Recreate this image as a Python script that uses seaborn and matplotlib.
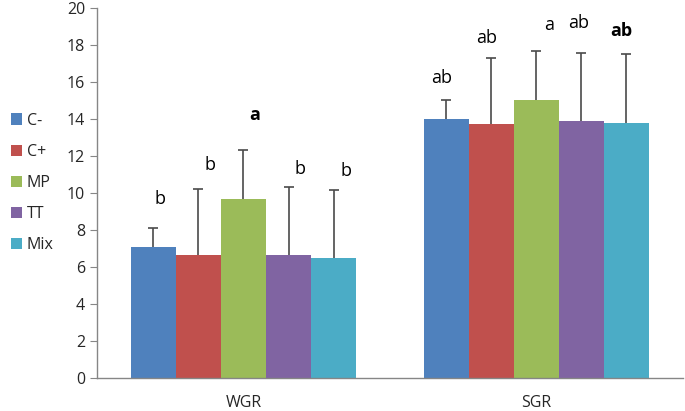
import numpy as np
import pandas as pd
import seaborn as sns
import matplotlib
matplotlib.use('Agg')
from matplotlib import pyplot as plt
from matplotlib.patches import Patch

# values
groups = ['WGR', 'SGR']
treatments = ['C-', 'C+', 'MP', 'TT', 'Mix']
wgr_mean = [7.1, 6.65, 9.65, 6.65, 6.5]
sgr_mean = [14.0, 13.75, 15.05, 13.9, 13.8]
wgr_err = [1.0, 3.55, 2.7, 3.7, 3.65]
sgr_err = [1.05, 3.55, 2.65, 3.65, 3.7]
wgr_letters = ['b', 'b', 'a', 'b', 'b']
sgr_letters = ['ab', 'ab', 'a', 'ab', 'ab']
wgr_letter_y = [9.7, 11.5, 14.2, 11.3, 11.2]
sgr_letter_y = [16.2, 18.4, 19.1, 19.2, 18.75]
wgr_bold = [False, False, True, False, False]
sgr_bold = [False, False, False, False, True]
# letters sit a bit off the bar centres (in pixels)
wgr_letter_dx = [7, 12, 11, 11, 12]
sgr_letter_dx = [-4, -5, 13, -3, -5]

colors = ['#4F81BD', '#C0504D', '#9BBB59', '#8064A2', '#4BACC6']
axis_gray = '#868686'

sns.set_style('white')
plt.rcParams['font.family'] = ['Open Sans', 'DejaVu Sans']

df = pd.DataFrame({
    'group': [g for g in groups for _ in treatments],
    'treatment': treatments * 2,
    'value': wgr_mean + sgr_mean,
})

fig = plt.figure(figsize=(6.85, 4.11), dpi=100)
ax = fig.add_axes([0.1416, 0.0803, 0.855, 0.9002])

sns.barplot(data=df, x='group', y='value', hue='treatment', order=groups,
            hue_order=treatments, palette=colors, width=0.77, gap=0,
            errorbar=None, saturation=1, linewidth=0, ax=ax, legend=False)

errs = {'WGR': wgr_err, 'SGR': sgr_err}
means = {'WGR': wgr_mean, 'SGR': sgr_mean}
letters = {'WGR': wgr_letters, 'SGR': sgr_letters}
letter_y = {'WGR': wgr_letter_y, 'SGR': sgr_letter_y}
letter_dx = {'WGR': wgr_letter_dx, 'SGR': sgr_letter_dx}
bolds = {'WGR': wgr_bold, 'SGR': sgr_bold}

px = 2.0 / (0.855 * 685)  # data units per pixel along x
cap = 5 * px
# patches come out hue by hue, each hue over both groups
bars = [p for p in ax.patches if p.get_height() > 0]
for i, t in enumerate(treatments):
    for j, g in enumerate(groups):
        p = bars[i * len(groups) + j]
        xc = p.get_x() + p.get_width() / 2
        top = means[g][i] + errs[g][i]
        ax.vlines(xc, means[g][i], top, color='#4a4a4a', linewidth=1.2)
        ax.hlines(top, xc - cap, xc + cap, color='#4a4a4a', linewidth=1.2)
        ax.text(xc + letter_dx[g][i] * px, letter_y[g][i], letters[g][i],
                ha='center', va='center', fontsize=13, color='black',
                fontweight='bold' if bolds[g][i] else 'normal')

ax.set_ylim(0, 20)
ax.set_yticks(np.arange(0, 21, 2))
ax.set_xlim(-0.5, 1.5)
ax.set_xlabel('')
ax.set_ylabel('')

ax.set_xticks([-0.5, 0.5, 1.5], minor=True)
ax.tick_params(axis='x', which='major', length=0, pad=12, labelsize=11.5)
ax.tick_params(axis='x', which='minor', length=5, color=axis_gray, direction='out')
ax.tick_params(axis='y', length=5, color=axis_gray, direction='out', labelsize=11.5, left=True)

for side in ['top', 'right']:
    ax.spines[side].set_visible(False)
for side in ['left', 'bottom']:
    ax.spines[side].set_color(axis_gray)
    ax.spines[side].set_linewidth(1)

handles = [Patch(facecolor=c, edgecolor='none') for c in colors]
fig.legend(handles, treatments, loc='center left', bbox_to_anchor=(-0.005, 0.555),
           frameon=False, fontsize=11.5, handlelength=0.7, handleheight=0.7,
           handletextpad=0.3, labelspacing=0.95)

fig.savefig('out.png', dpi=100)
